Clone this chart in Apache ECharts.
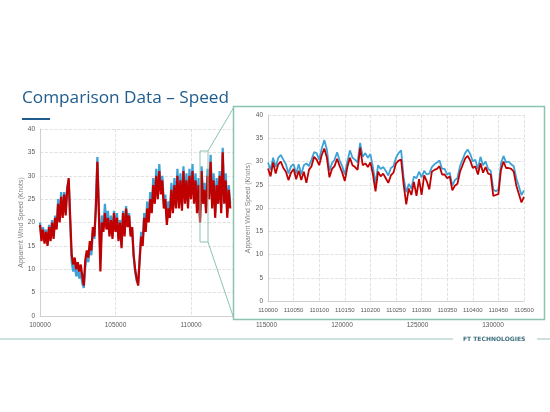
<!DOCTYPE html>
<html><head><meta charset="utf-8">
<script src="https://cdn.jsdelivr.net/npm/echarts@6/dist/echarts.min.js"></script>
<style>html,body{margin:0;padding:0;background:#fff;}#c{width:550px;height:412px;}</style>
</head><body><div id="c"></div>
<script>
// Background (full-range) chart samples: x = bgStart + i*bgStep
const bgStart = 100000, bgStep = 100;
const bgRed = [
19.5,16,18.5,15.5,18,15,19,16,20,16.5,
21,18.5,24,20,25.5,21,26,21.5,27,29.5,
21,13,11,12.5,10,11.5,9.5,11,8.5,6.5,
12,14,12.5,16,14,19,17,23,33,22,
9.5,20,18,22,18.5,21,17,20.5,16.5,22,
18,21,16,20,14.5,22,17,23,19,21.5,
17,19,13,10,8,6.5,12,17,15,21,
18,23,20,25,22,28,24,30,25,31,
26,29,23,25,19.5,23,21,27,22,28,
23,30,23,29,22.5,31,24,29,23,30,
25,31,24,29,22,28,20,31,24,27,
22,30,25,33,23,29,21,28,24,30,
22,35,24,29,21,27,23
];
const bgBlue = [
20,16.5,19,16,18.5,15.5,19.5,16.5,20.5,17,
21.5,19,25,20.5,26.5,21.5,26.5,22,27.5,29,
20,11.5,9.5,11,8.5,10,8,9.5,7,6,
10.5,13,11.5,15,13,18,16.5,24,34,23,
12,21.5,19,24,19.5,22.5,18,21.5,17,22.5,
18.5,22,16.5,20.5,15,22.5,17.5,23.5,19.5,22,
17.5,19,13,9.5,7.5,7,12.5,18,16,22,
19,24.5,21,26.5,23,29.5,25,31.5,26,32.5,
27,30,24,26,20.5,24.5,22,28.5,23,29.5,
24,31.5,24,30.5,23.5,32,25,30.5,24,31.5,
26,32.5,25,30.5,23,29.5,21,32,25,28.5,
23,31.5,26,34.5,24,30.5,22,29.5,25,31,
23,36,25,30.5,22,28,24
];
// Inset (zoomed) chart samples: x = inStart + i*inStep
const inStart = 110000, inStep = 5;
const inRed = [
28.5,26.8,29.8,27.4,29.4,30.0,28.6,27.8,26.0,27.6,
28.4,26.2,28.0,26.0,27.8,25.4,28.2,29.0,31.0,30.4,
29.2,31.4,32.8,30.8,26.6,28.4,29.0,30.6,29.0,27.6,
25.8,28.8,30.8,29.2,28.8,28.2,33.0,29.2,29.6,28.8,
29.8,27.2,23.6,27.8,26.8,27.4,26.4,25.4,27.0,27.6,
29.6,30.2,30.4,25.0,20.8,24.2,22.8,25.6,22.6,26.2,
22.8,27.0,25.8,24.0,27.8,28.2,28.4,29.0,27.2,27.2,
26.4,26.8,23.8,24.8,25.2,27.8,29.2,30.6,31.2,30.2,
28.6,29.0,27.2,29.6,27.6,28.8,27.4,27.2,22.6,22.8,
23.0,28.2,30.0,28.6,28.6,28.4,27.8,24.8,23.0,21.2,
22.4
];
const inBlue = [
29.8,28.2,30.8,28.8,30.8,31.4,30.4,29.4,27.4,29.0,
29.4,27.4,29.4,27.2,29.2,29.6,29.0,30.4,32.0,31.8,
30.4,32.8,34.6,32.6,28.0,29.6,30.4,32.0,30.2,29.0,
27.2,30.0,32.4,30.8,30.4,29.8,34.0,31.0,31.8,30.8,
31.6,28.8,25.2,29.2,28.4,28.8,28.0,27.0,28.6,29.0,
30.8,31.8,32.4,26.4,23.4,25.2,24.2,26.8,26.4,27.8,
26.6,28.0,27.2,27.4,28.8,29.4,29.8,30.2,28.4,28.4,
27.2,27.6,24.8,26.0,26.4,29.0,30.4,31.8,32.6,31.6,
30.0,30.4,28.4,31.0,29.2,30.0,28.4,28.0,24.0,23.6,
24.0,29.6,31.2,29.8,30.0,29.4,29.0,26.4,24.6,22.8,
23.8
];
const yTicks = {min: 0, max: 40, interval: 5};
const bgXTicks = {min: 100000, max: 130000, interval: 5000};
const inXTicks = {min: 110000, max: 110500, interval: 50};
const titleText = 'Comparison Data \u2013 Speed';
const yName = 'Apparent Wind Speed (Knots)';
const footerText = 'FT TECHNOLOGIES';

const pairs = (start, step, arr) => arr.map((v, i) => [start + i * step, v]);

const RED = '#c00000', BLUE = '#3fa2d6', TITLE = '#1f5b8c', FRAME = '#8cc4b0';
const labelStyle = {color: '#595959', fontSize: 6.5, fontFamily: 'Liberation Sans'};
const splitLine = {show: true, lineStyle: {color: '#d9d9d9', type: 'dashed', width: 0.8}};
const axisLine = {show: true, lineStyle: {color: '#d0d0d0', width: 1}};
const nameStyle = {color: '#7f7f7f', fontSize: 6.8, fontFamily: 'Liberation Sans'};

const chart = echarts.init(document.getElementById('c'), null, {renderer: 'canvas'});
chart.setOption({
  animation: false,
  backgroundColor: '#fff',
  grid: [
    {left: 40, right: 57, top: 129, bottom: 96, containLabel: false},
    {left: 268, right: 26, top: 115, bottom: 111, containLabel: false}
  ],
  xAxis: [
    {gridIndex: 0, type: 'value', min: bgXTicks.min, max: bgXTicks.max, interval: bgXTicks.interval,
     axisLine: axisLine, axisTick: {show: false}, splitLine: splitLine,
     axisLabel: Object.assign({margin: 6, formatter: v => String(v)}, labelStyle)},
    {gridIndex: 1, type: 'value', min: inXTicks.min, max: inXTicks.max, interval: inXTicks.interval, z: 11,
     axisLine: axisLine, axisTick: {show: false}, splitLine: splitLine,
     axisLabel: Object.assign({margin: 6, formatter: v => String(v)}, labelStyle, {fontSize: 6})}
  ],
  yAxis: [
    {gridIndex: 0, type: 'value', min: yTicks.min, max: yTicks.max, interval: yTicks.interval,
     name: yName, nameLocation: 'middle', nameGap: 15, nameRotate: 90, nameMoveOverlap: false,
     nameTextStyle: nameStyle,
     axisLine: axisLine, axisTick: {show: false}, splitLine: splitLine,
     axisLabel: Object.assign({margin: 5}, labelStyle)},
    {gridIndex: 1, type: 'value', min: yTicks.min, max: yTicks.max, interval: yTicks.interval, z: 11,
     name: yName, nameLocation: 'middle', nameGap: 16, nameRotate: 90, nameMoveOverlap: false,
     nameTextStyle: nameStyle,
     axisLine: axisLine, axisTick: {show: false}, splitLine: splitLine,
     axisLabel: Object.assign({margin: 5}, labelStyle)}
  ],
  series: [
    {type: 'line', xAxisIndex: 0, yAxisIndex: 0, data: pairs(bgStart, bgStep, bgBlue), showSymbol: false,
     lineStyle: {color: BLUE, width: 2.2}, z: 2},
    {type: 'line', xAxisIndex: 0, yAxisIndex: 0, data: pairs(bgStart, bgStep, bgRed), showSymbol: false,
     lineStyle: {color: RED, width: 2.2}, z: 3},
    {type: 'line', xAxisIndex: 1, yAxisIndex: 1, data: pairs(inStart, inStep, inBlue), showSymbol: false,
     lineStyle: {color: BLUE, width: 1.8}, z: 12},
    {type: 'line', xAxisIndex: 1, yAxisIndex: 1, data: pairs(inStart, inStep, inRed), showSymbol: false,
     lineStyle: {color: RED, width: 1.8}, z: 13}
  ],
  graphic: [
    {type: 'text', left: 22, top: 90, z: 20,
     style: {text: titleText, fill: TITLE, font: '17.2px "Open Sans"'}},
    {type: 'rect', shape: {x: 22, y: 118, width: 28, height: 2}, style: {fill: TITLE}, z: 20},
    {type: 'rect', shape: {x: 200, y: 151, width: 8, height: 91}, style: {fill: 'none', stroke: FRAME, lineWidth: 1}, z: 9},
    {type: 'line', shape: {x1: 208, y1: 151, x2: 234, y2: 107}, style: {stroke: FRAME, lineWidth: 1}, z: 9},
    {type: 'line', shape: {x1: 208, y1: 242, x2: 234, y2: 319}, style: {stroke: FRAME, lineWidth: 1}, z: 9},
    {type: 'rect', shape: {x: 233.5, y: 106.5, width: 311, height: 213}, style: {fill: '#fff', stroke: FRAME, lineWidth: 1.5}, z: 10},
    {type: 'line', shape: {x1: 0, y1: 339, x2: 453, y2: 339}, style: {stroke: '#9cc2be', lineWidth: 1}, z: 9},
    {type: 'line', shape: {x1: 537, y1: 339, x2: 550, y2: 339}, style: {stroke: '#9cc2be', lineWidth: 1}, z: 9},
    {type: 'text', left: 463, top: 336, z: 20,
     style: {text: footerText, fill: '#3f6f7f', font: 'bold 6px "DejaVu Sans"'}}
  ]
});
</script></body></html>
